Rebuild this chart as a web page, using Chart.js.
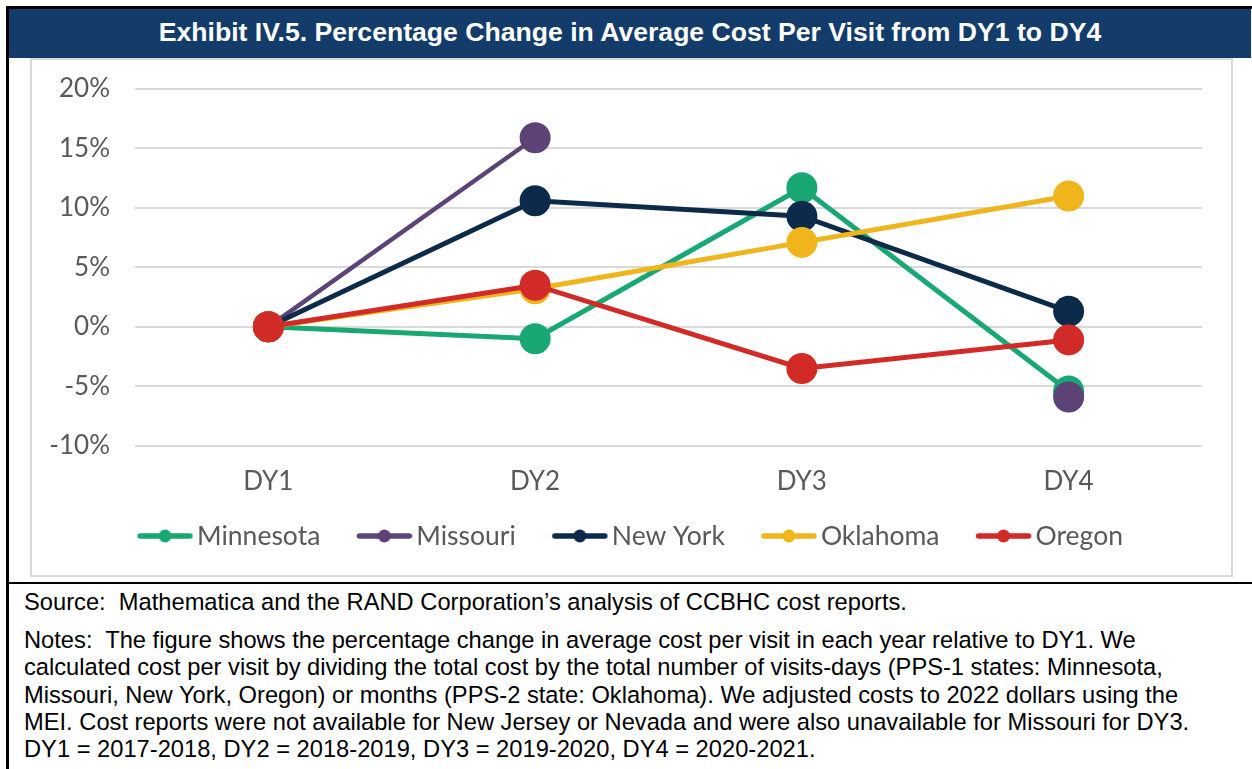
<!DOCTYPE html>
<html>
<head>
<meta charset="utf-8">
<script src="https://cdn.jsdelivr.net/npm/chart.js@4.4.1/dist/chart.umd.min.js"></script>
<style>
  html, body { margin: 0; padding: 0; background: #fff; width: 1252px; height: 769px; overflow: hidden; }
  #frame { position: absolute; left: 6px; top: 6px; width: 1250px; height: 800px; border: 3px solid #000; box-sizing: border-box; }
  #title { position: absolute; left: 9px; top: 9px; width: 1242px; height: 49px; background: #143c6b; color: #fff;
           font: bold 26.6px "Liberation Sans", Arial, sans-serif; text-align: center; line-height: 47px; white-space: nowrap; }
  #box { position: absolute; left: 30px; top: 58px; width: 1203px; height: 519px; border: 2px solid #d9d9d9; box-sizing: border-box; }
  #cv { position: absolute; left: 32px; top: 60px; }
  #sep { position: absolute; left: 9px; top: 582px; width: 1250px; height: 2px; background: #000; }
  #notes { position: absolute; left: 24px; top: 589px; font: 23.7px "Liberation Sans", Arial, sans-serif; color: #000; white-space: pre; line-height: 27.2px; }
  #notes .src { margin-bottom: 11px; }
</style>
</head>
<body>
<div id="frame"></div>
<div id="title">Exhibit IV.5. Percentage Change in Average Cost Per Visit from DY1 to DY4</div>
<div id="box"></div>
<canvas id="cv" width="1198" height="515"></canvas>
<div id="sep"></div>
<div id="notes"><div class="src">Source:  Mathematica and the RAND Corporation’s analysis of CCBHC cost reports.</div><div>Notes:  The figure shows the percentage change in average cost per visit in each year relative to DY1. We
calculated cost per visit by dividing the total cost by the total number of visits-days (PPS-1 states: Minnesota,
Missouri, New York, Oregon) or months (PPS-2 state: Oklahoma). We adjusted costs to 2022 dollars using the
MEI. Cost reports were not available for New Jersey or Nevada and were also unavailable for Missouri for DY3.
DY1 = 2017-2018, DY2 = 2018-2019, DY3 = 2019-2020, DY4 = 2020-2021.</div></div>
<script>
// ---- data ----
const categories = ['DY1', 'DY2', 'DY3', 'DY4'];
const seriesNames = ['Minnesota', 'Missouri', 'New York', 'Oklahoma', 'Oregon'];
const minnesota = [0, -1.0, 11.7, -5.4];
const missouri  = [0, 15.9, null, -5.9];
const newYork   = [0, 10.6, 9.3, 1.3];
const oklahoma  = [0, 3.2, 7.1, 11.0];
const oregon    = [0, 3.5, -3.5, -1.1];
const yTicks    = [-10, -5, 0, 5, 10, 15, 20];

// ---- styles ----
const colors = ['#19a873', '#5b4378', '#0c2b4b', '#f0b41c', '#d22b27'];
const seriesValues = [minnesota, missouri, newYork, oklahoma, oregon];
const textColor = '#595959';
const fontFamily = 'Lato, "Open Sans", sans-serif';

// legend geometry
const LF = 26.5;          // legend font size
const LP = 10;            // legend padding
const markLen = 56;       // legend marker length
const markToText = 60;    // marker left -> text start
const itemGap = 36;       // text end -> next marker left
const boxW = itemGap + markToText - LF / 2 - LP;
const markOff = boxW + LF / 2 - markToText;
const ctr = boxW / 2;
const half = Math.ceil(Math.max(ctr - markOff, markOff + markLen - ctr));
const imgW = half * 2;
const markStart = markOff - (ctr - half);

function makeMarker(color) {
  const c = document.createElement('canvas');
  c.width = imgW; c.height = 16;
  const g = c.getContext('2d');
  g.strokeStyle = color; g.lineWidth = 5.5; g.lineCap = 'round';
  g.beginPath(); g.moveTo(markStart + 3, 8); g.lineTo(markStart + markLen - 3, 8); g.stroke();
  g.fillStyle = color;
  g.beginPath(); g.arc(markStart + markLen / 2, 8, 6.5, 0, Math.PI * 2); g.fill();
  return c;
}
const markers = colors.map(makeMarker);

const datasets = seriesNames.map((name, i) => ({
  label: name,
  data: seriesValues[i],
  borderColor: colors[i],
  backgroundColor: colors[i],
  pointBackgroundColor: colors[i],
  pointBorderWidth: 0,
  pointRadius: 15.5,
  borderWidth: i === 1 ? 4.5 : 5,
  spanGaps: false,
  tension: 0,
  clip: false,
  order: seriesNames.length - i
}));

new Chart(document.getElementById('cv'), {
  type: 'line',
  data: { labels: categories, datasets },
  options: {
    responsive: false,
    animation: false,
    devicePixelRatio: 1,
    layout: { autoPadding: false, padding: { left: 0, right: 28, top: 29, bottom: 15.75 } },
    scales: {
      x: {
        offset: true,
        grid: { display: false, drawTicks: false },
        border: { display: false },
        ticks: { padding: 20, color: textColor, font: { family: fontFamily, size: 26 } },
        afterFit(s) { s.height = 67; }
      },
      y: {
        min: -10, max: 20,
        afterBuildTicks(s) { s.ticks = yTicks.map(v => ({ value: v })); },
        grid: { color: '#d9d9d9', lineWidth: 2, drawTicks: false },
        border: { display: false },
        ticks: { padding: 25, color: textColor, font: { family: fontFamily, size: 26 }, callback: v => v + '%' },
        afterFit(s) { s.width = 103; s.paddingTop = 0; s.paddingBottom = 0; }
      }
    },
    plugins: {
      tooltip: { enabled: false },
      legend: {
        position: 'bottom',
        labels: {
          usePointStyle: true,
          pointStyleWidth: boxW,
          padding: LP,
          color: textColor,
          font: { family: fontFamily, size: LF },
          sort: (a, b) => a.datasetIndex - b.datasetIndex,
          generateLabels(chart) {
            const items = Chart.defaults.plugins.legend.labels.generateLabels(chart);
            items.forEach((it) => { it.pointStyle = markers[it.datasetIndex]; });
            return items;
          }
        }
      }
    }
  }
});
</script>
</body>
</html>
